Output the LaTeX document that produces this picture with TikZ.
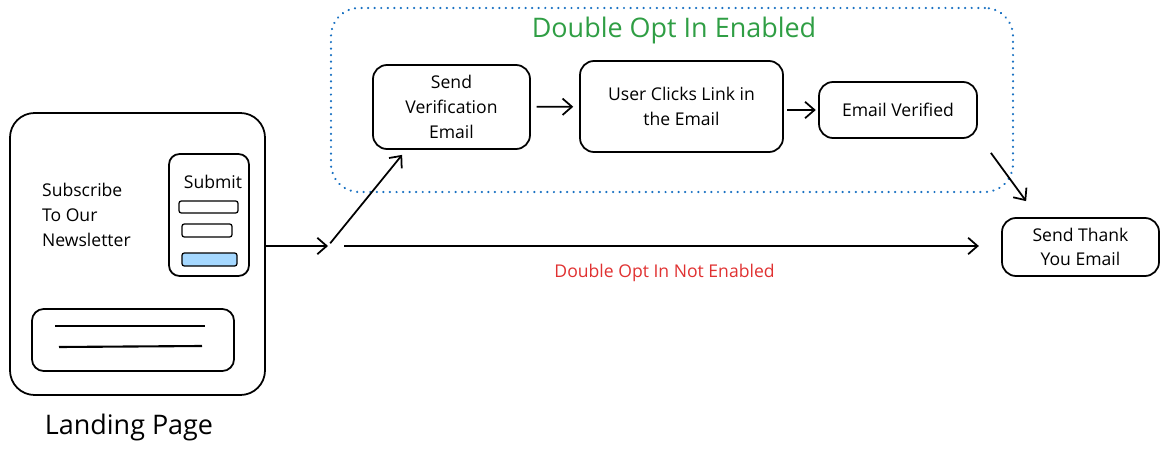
\documentclass[tikz,border=0pt]{standalone}
\usepackage{fontspec}
\setmainfont{Open Sans}
\usetikzlibrary{arrows.meta}
\definecolor{optblue}{HTML}{1971C2}
\definecolor{optgreen}{HTML}{2F9E44}
\definecolor{optred}{HTML}{E03131}
\definecolor{btnblue}{HTML}{A5D8FF}
\begin{document}
\begin{tikzpicture}[x=0.03cm, y=-0.03cm]
\tikzstyle{every node}=[font=\fontsize{15}{21}\selectfont]
\tikzstyle{box}=[draw, line width=1.5pt, rounded corners=12pt, align=center, inner sep=2pt]
\tikzstyle{field}=[draw, line width=1.1pt, rounded corners=2pt, inner sep=0pt]
\tikzstyle{arr}=[-{Straight Barb[length=8pt,width=14pt]}, line width=1.5pt]
\useasboundingbox (0,0) rectangle (1169,454);
% landing page
  \node[box, rounded corners=21pt, minimum width=7.65cm, minimum height=8.46cm] (landing) at (137.5,254) {};
  \node[anchor=west, align=left] (subscribe) at (38,215) {Subscribe\\To Our\\Newsletter};
  \node[box, rounded corners=9pt, minimum width=2.4cm, minimum height=3.66cm] (form) at (209,215) {};
  \node (submit) at (213,182) {Submit};
  \node[field, minimum width=1.77cm, minimum height=0.36cm] (field1) at (208.5,207) {};
  \node[field, minimum width=1.5cm, minimum height=0.39cm] (field2) at (207,230.5) {};
  \node[field, fill=btnblue, minimum width=1.65cm, minimum height=0.39cm] (button) at (209.5,259.5) {};
  \node[box, rounded corners=10pt, minimum width=6.06cm, minimum height=1.86cm] (content) at (133,340) {};
  \draw[line width=1.8pt] (55,326) -- (205,326);
  \draw[line width=1.8pt] (59,347) -- (202,346);
  \node[font=\fontsize{23}{26}\selectfont] (lplabel) at (129,427) {Landing Page};
% double opt in group
  \node[draw=optblue, line width=2pt, dash pattern=on 0.1pt off 5.5pt, line cap=round, rounded corners=24pt, minimum width=20.46cm, minimum height=5.52cm] (group) at (672,100) {};
  \node[text=optgreen, font=\fontsize{23}{26}\selectfont] (grouplabel) at (674,31) {Double Opt In Enabled};
% steps
  \node[box, minimum width=4.71cm, minimum height=2.52cm] (verif) at (451.5,107) {Send\\Verification\\Email};
  \node[box, minimum width=6.09cm, minimum height=2.73cm] (clicks) at (681.5,106.5) {User Clicks Link in\\the Email};
  \node[box, minimum width=4.74cm, minimum height=1.68cm] (verified) at (898,110) {Email Verified};
  \node[box, minimum width=4.71cm, minimum height=1.74cm] (thanks) at (1080.5,247) {Send Thank\\You Email};
  \coordinate (split) at (328,246);
%%%%%%%%%%%%%%%%
\draw[arr] (landing.east |- split) -- (split);
\draw[arr, shorten <=3pt] (split) -- ([xshift=0.9cm, yshift=-0.15cm]verif.south west);
\draw[arr, shorten <=14pt, shorten >=19pt] (split) -- node[pos=0.5, below=11pt, text=optred] (notlabel) {Double Opt In Not Enabled} (thanks.west |- split);
\draw[arr, shorten <=5pt, shorten >=5pt] (verif) -- (clicks);
\draw[arr, shorten <=3pt, shorten >=2pt] (clicks.east |- verified) -- (verified);
\draw[arr] ([shift={(13,14)}]verified.south east) -- ([shift={(25,-16)}]thanks.north west);
\end{tikzpicture}
\end{document}
